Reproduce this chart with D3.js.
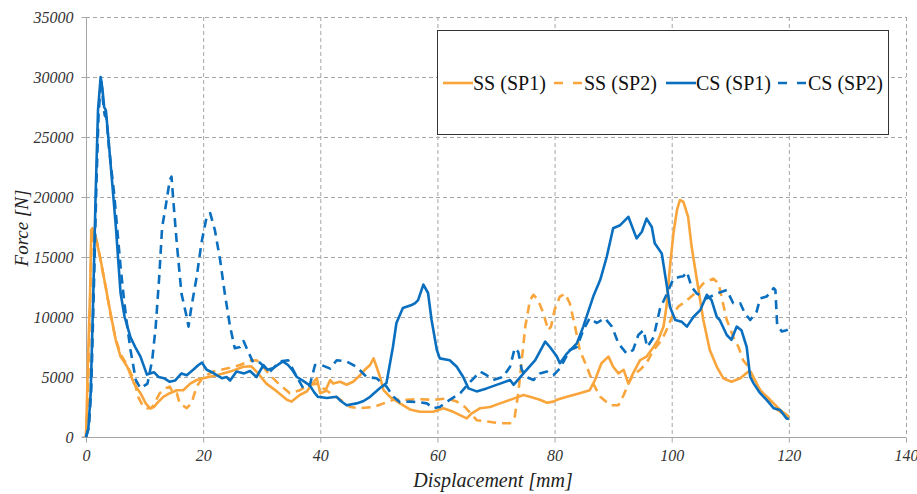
<!DOCTYPE html>
<html>
<head>
<meta charset="utf-8">
<script src="https://cdn.jsdelivr.net/npm/d3@7"></script>
<style>
  html, body { margin: 0; padding: 0; background: #fff; }
  svg { display: block; }
</style>
</head>
<body>
<svg id="chart" width="917" height="494"></svg>
<script>
// ---------- DATA ----------
const xTicks = [0, 20, 40, 60, 80, 100, 120, 140];
const yTicks = [0, 5000, 10000, 15000, 20000, 25000, 30000, 35000];
const seriesNames = ["SS (SP1)", "SS (SP2)", "CS (SP1)", "CS (SP2)"];

const ssSp1 = [[0,0],[0.34,6400],[0.7,12000],[0.9,17250],[1.1,17400],[1.65,16700],[2.5,14750],[3.36,12500],[4.2,10300],[5.07,8100],[5.9,6700],[7.05,5850],[8.2,4450],[9.3,3650],[10.2,2800],[10.9,2400],[11.6,2500],[12.1,2800],[13.2,3350],[14.3,3650],[15.5,3900],[16.6,3900],[17.8,4450],[18.9,4750],[20,4900],[22.3,5150],[24.6,5450],[26.9,5850],[28.2,5900],[29.2,5400],[30.8,4450],[32.6,3800],[34.3,3100],[35.1,2950],[36.5,3500],[37.7,3800],[38.5,4350],[39.4,4900],[40,3650],[40.8,3800],[41.7,4750],[42.2,4450],[43.4,4600],[44.5,4350],[45.6,4600],[46.8,5150],[47.6,5600],[48.5,6000],[49.1,6550],[49.6,5850],[50.2,5000],[50.8,3900],[51.9,3350],[53.6,2800],[55.3,2300],[57,2100],[59.3,2100],[61,2400],[62.7,2100],[65,1550],[65.8,1950],[67.3,2400],[69,2500],[70.7,2800],[73,3200],[74.7,3500],[75.8,3350],[77.5,3100],[78.7,2850],[79.8,2950],[80.4,3100],[82.1,3350],[84.3,3650],[86,3900],[86.9,4750],[88,6150],[89.2,6700],[90,5850],[90.9,5300],[91.8,5600],[92.6,4450],[93.4,5300],[94.6,6400],[95.7,6700],[96.9,7500],[97.7,8100],[98.6,9200],[99.1,10850],[99.7,14200],[100.3,17000],[100.9,18900],[101.4,19750],[102,19600],[102.8,18350],[103.4,15850],[104.3,13100],[105.4,9750],[106.5,7250],[107.7,5850],[108.8,4900],[110.2,4600],[111.7,4900],[113.1,5450],[113.6,5300],[115.1,3900],[116.8,3100],[118.5,2250],[120,1700]];

const ssSp2 = [[0,0],[0.3,3000],[0.6,9000],[0.9,15500],[1.2,17000],[1.8,16400],[2.5,14700],[3.4,12400],[4.2,10200],[5,8300],[5.9,6900],[7,6000],[8.2,4750],[8.9,3350],[9.8,2500],[10.4,2400],[11.2,2400],[12.6,3650],[13.5,4050],[14.3,4200],[14.9,3650],[15.5,3650],[16,2800],[17.2,2400],[18,2800],[18.9,4200],[20,5000],[21.7,5450],[24,5700],[26.3,6000],[28,6350],[29.1,6400],[30,6000],[31.4,5150],[33.1,4350],[34.8,3650],[36.5,3900],[38.2,4350],[39.4,4450],[40.5,4050],[42.2,3500],[43.9,2950],[45.1,2500],[46.8,2400],[49.1,2500],[50.8,2800],[52.5,3100],[54.8,3100],[56.5,3150],[59.3,3100],[61.6,3200],[63.3,2950],[64.7,2500],[66.7,1400],[68.4,1300],[70.7,1150],[72.4,1150],[73.2,1700],[73.8,3650],[74.4,6400],[75,9200],[75.8,11400],[76.4,11850],[77.2,11400],[78.1,10300],[78.9,8900],[79.4,9200],[80,10600],[80.9,11700],[81.8,11950],[82.6,11150],[83.5,9200],[84.3,7250],[85.5,5850],[86.6,4450],[87.8,3350],[89.5,2650],[90.9,2650],[91.8,3500],[92.6,4450],[93.4,5150],[94.6,5600],[95.7,6150],[96.9,7250],[98.3,8100],[99.1,8900],[100.3,10300],[101.1,10850],[102.6,11400],[103.7,11850],[105.4,12800],[107.1,13200],[108,12800],[108.5,11700],[109.4,9750],[110.5,8350],[111.4,7500],[112.2,6400],[113.1,5850],[113.6,5300],[114.5,4200],[115.6,3650],[117.4,2500],[119,1950],[120,1500]];

const csSp1 = [[0,0],[0.4,700],[0.8,3650],[1.25,12000],[1.65,20300],[2.05,27250],[2.5,30000],[2.8,29000],[3.1,27500],[3.4,27200],[3.9,24500],[4.5,21000],[5.1,17500],[5.9,12000],[6.6,10000],[7.6,8300],[8.5,7400],[9.3,6700],[10.4,5200],[11.6,5400],[12.4,5000],[13.3,4900],[14.3,4600],[15.2,4700],[16.3,5300],[17.2,5150],[18.3,5600],[19.2,6000],[19.8,6200],[20.6,5600],[21.5,5400],[22.3,5150],[23.2,4900],[24,5000],[24.6,4700],[25.7,5450],[27,5300],[28,5500],[29.1,5000],[30.3,6000],[31,5600],[32,5750],[33.6,6300],[34.5,6000],[35.2,5600],[36,5000],[37,4700],[38.2,4300],[39,3700],[39.6,3350],[41.1,3250],[42.8,3350],[43.5,3000],[44.5,2650],[46.2,2800],[47.4,3000],[48.5,3350],[50,4000],[51.3,4500],[52.4,7500],[53,9500],[54.1,10750],[55.6,11000],[56.2,11150],[56.7,11400],[57.6,12700],[58.4,12000],[59,9750],[59.9,7250],[60.4,6550],[62.1,6400],[63.3,5850],[64.4,5000],[65.3,4050],[66.7,3800],[68.4,4050],[70.7,4450],[72.4,4750],[73,4350],[74.7,5300],[76.7,6400],[78.4,7950],[79.2,7500],[80.4,6700],[80.9,6150],[82.1,6950],[83.8,7800],[84.9,9200],[86.6,11700],[87.8,13100],[88.9,15000],[90,17400],[91.2,17650],[92.6,18350],[94,16550],[94.9,17100],[95.7,18200],[96.6,17500],[97.1,16150],[98.3,15300],[99.1,12800],[99.7,10850],[100.6,9750],[101.7,9600],[102.6,9200],[103.7,10000],[104.9,10600],[106,11850],[106.8,11400],[107.7,10000],[108.2,9750],[109.4,8500],[110.2,8100],[111.1,9200],[111.9,8900],[112.8,7500],[113.4,5000],[114,4450],[115.1,3650],[116.2,3100],[117.4,2400],[118.5,2250],[119.6,1550],[120,1500]];

const csSp2 = [[0,0],[0.5,800],[0.9,4000],[1.35,12500],[1.75,20500],[2.15,27000],[2.6,29800],[3.0,27500],[3.2,26800],[3.5,26600],[3.9,24200],[4.8,20300],[5.9,14200],[6.5,11400],[7.05,9200],[7.6,7250],[8.5,4750],[9.3,4050],[10.5,4450],[11.3,6400],[11.9,9200],[12.5,13350],[13,17500],[13.5,18900],[14.3,21400],[14.6,21700],[14.9,19750],[15.5,16150],[16.3,11950],[17.2,10000],[17.5,9200],[18,10850],[18.9,13350],[19.7,16150],[20.6,18350],[21.2,18650],[22,17250],[22.9,14750],[23.7,11950],[24.6,9200],[25.4,7400],[26.3,7500],[26.9,8000],[27.7,7100],[28.6,6150],[29.7,6200],[30.5,5800],[31.4,5450],[33.1,6300],[34.5,6400],[36,5000],[37.1,4050],[38.2,4300],[39.1,6000],[40.2,6000],[41.7,5700],[42.8,6400],[44.5,6300],[46.2,5850],[47.9,5000],[49.6,4900],[51.3,4200],[52.5,3350],[53.6,2900],[55.3,2950],[57,2900],[58.2,2800],[59.3,2400],[60.4,2500],[62.1,3100],[63.9,3650],[65.6,4600],[67.3,5450],[68.4,5150],[69.5,4750],[71.2,5000],[72.4,5850],[73.2,7400],[73.8,7100],[74.4,5600],[75.2,5000],[76.4,4750],[77.5,5300],[78.7,5450],[79.8,5150],[80.9,5700],[82.6,7250],[83.8,7500],[84.9,8900],[86,9900],[87.2,9500],[88.6,9900],[89.8,9200],[90.9,7800],[92.3,6950],[93.4,7250],[94.3,8500],[95.2,8900],[95.8,7500],[96.9,8300],[98,10700],[99.1,11850],[100.3,13200],[101.4,13350],[102,13400],[102.6,13750],[103.4,12500],[104.3,11950],[106,11550],[107.7,11950],[109.4,12250],[110.5,11150],[111.7,11150],[112.5,10300],[113.4,9750],[114.5,10450],[115.1,11550],[116.2,11700],[117.4,12400],[117.7,12250],[118,9350],[118.8,8800],[119.6,8900],[120,9000]];

// ---------- LAYOUT / STYLE ----------
const svg = d3.select("#chart");
const m = { left: 86, right: 906, top: 17, bottom: 437 };
const x = d3.scaleLinear().domain([0, 140]).range([m.left, m.right]);
const y = d3.scaleLinear().domain([0, 35000]).range([m.bottom, m.top]);

const ORANGE = "#F9A53C";
const BLUE = "#0B6FBF";
const series = [
  { name: seriesNames[0], data: ssSp1, color: ORANGE, dash: null },
  { name: seriesNames[1], data: ssSp2, color: ORANGE, dash: "9,6" },
  { name: seriesNames[2], data: csSp1, color: BLUE, dash: null },
  { name: seriesNames[3], data: csSp2, color: BLUE, dash: "9,6" }
];

const font = "'Liberation Serif', 'Times New Roman', serif";

// gridlines
const grid = svg.append("g");
grid.selectAll("line.h").data(yTicks.filter(d => d > 0)).join("line")
  .attr("x1", m.left).attr("x2", m.right)
  .attr("y1", d => y(d) + 0.5).attr("y2", d => y(d) + 0.5)
  .attr("stroke", "#a6a6a6").attr("stroke-width", 1).attr("stroke-dasharray", "4,3");
grid.selectAll("line.v").data(xTicks.filter(d => d > 0)).join("line")
  .attr("y1", m.top).attr("y2", m.bottom)
  .attr("x1", d => x(d) + 0.5).attr("x2", d => x(d) + 0.5)
  .attr("stroke", "#a6a6a6").attr("stroke-width", 1).attr("stroke-dasharray", "4,3");

// axes
const xAxis = d3.axisBottom(x).tickValues(xTicks).tickSize(5).tickPadding(7).tickFormat(d3.format("d"));
const yAxis = d3.axisLeft(y).tickValues(yTicks).tickSize(5).tickPadding(8).tickFormat(d3.format("d"));

const gx = svg.append("g").attr("transform", `translate(0,${m.bottom + 0.5})`).call(xAxis);
const gy = svg.append("g").attr("transform", `translate(${m.left + 0.5},0)`).call(yAxis);
[gx, gy].forEach(g => {
  g.selectAll("path.domain").attr("stroke", "#a6a6a6");
  g.selectAll(".tick line").attr("stroke", "#a6a6a6");
  g.selectAll("text").attr("font-family", font).attr("font-style", "italic")
    .attr("font-size", 16).attr("fill", "#333");
});
gy.selectAll("path.domain").attr("d", `M-5,${m.bottom}H0V${m.top}`);
gx.selectAll("path.domain").attr("d", `M${m.left},0H${m.right}`);

// lines
const line = d3.line().x(d => x(d[0])).y(d => y(d[1]));
svg.append("g").selectAll("path").data(series).join("path")
  .attr("d", d => line(d.data))
  .attr("fill", "none")
  .attr("stroke", d => d.color)
  .attr("stroke-width", 2.6)
  .attr("stroke-linejoin", "round")
  .attr("stroke-dasharray", d => d.dash);

// axis titles
svg.append("text").attr("x", 493).attr("y", 487)
  .attr("text-anchor", "middle").attr("font-family", font).attr("font-style", "italic")
  .attr("font-size", 20).attr("fill", "#222").text("Displacement [mm]");
svg.append("text").attr("transform", "translate(28,228) rotate(-90)")
  .attr("text-anchor", "middle").attr("font-family", font).attr("font-style", "italic")
  .attr("font-size", 19).attr("fill", "#222").text("Force [N]");

// legend
const lg = svg.append("g");
lg.append("rect").attr("x", 437.5).attr("y", 30.5).attr("width", 451).attr("height", 104)
  .attr("fill", "#fff").attr("stroke", "#333").attr("stroke-width", 1);
const legendX = [443, 554, 666, 778];
series.forEach((s, i) => {
  const lx = legendX[i];
  lg.append("line").attr("x1", lx).attr("x2", lx + 30).attr("y1", 83).attr("y2", 83)
    .attr("stroke", s.color).attr("stroke-width", 2.6).attr("stroke-dasharray", s.dash ? "9,10" : null);
  lg.append("text").attr("x", lx + 30).attr("y", 90)
    .attr("font-family", font).attr("font-size", 20).attr("fill", "#111").text(s.name);
});
</script>
</body>
</html>
